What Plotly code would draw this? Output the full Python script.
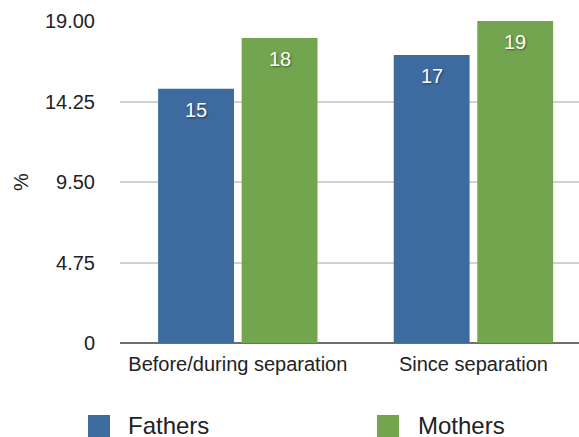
import plotly.graph_objects as go

categories = ["Before/during separation", "Since separation"]
fathers = [15, 17]
mothers = [18, 19]
series_names = ["Fathers", "Mothers"]
tick_vals = [0, 4.75, 9.5, 14.25, 19]
tick_text = ["0", "4.75", "9.50", "14.25", "19.00"]

BLUE = "#3d6a9f"
GREEN = "#72a54d"
FONT = "Liberation Sans, Arial, Helvetica, sans-serif"

BARGAP = 0.291
BARGROUPGAP = 0.092

fig = go.Figure()
fig.add_trace(go.Bar(name=series_names[0], x=categories, y=fathers,
                     marker=dict(color=BLUE, line=dict(width=0))))
fig.add_trace(go.Bar(name=series_names[1], x=categories, y=mothers,
                     marker=dict(color=GREEN, line=dict(width=0))))

# value labels inside bar tops
slot = (1 - BARGAP) / 2
for si, vals in enumerate([fathers, mothers]):
    off = (si - 0.5) * slot
    for ci, v in enumerate(vals):
        fig.add_annotation(x=ci + off, y=v, xref="x", yref="y", text=str(v),
                           showarrow=False, yanchor="middle", yshift=-21,
                           font=dict(family=FONT, size=20, color="white",
                                     shadow="1px 1px 2px rgba(0,0,0,0.45)"))

# manual legend
W = 459.0
H = 322.0
def px(x):
    return (x - 120) / W
def py(y):
    return (343 - y) / H

for name, color, sx, tx in [(series_names[0], BLUE, 88, 128), (series_names[1], GREEN, 377, 418)]:
    fig.add_shape(type="rect", xref="paper", yref="paper",
                  x0=px(sx), x1=px(sx + 22), y0=py(437), y1=py(415),
                  fillcolor=color, line=dict(width=0))
    fig.add_annotation(xref="paper", yref="paper", x=px(tx - 2), y=py(426),
                       text=name, showarrow=False, xanchor="left", yanchor="middle",
                       font=dict(family=FONT, size=24, color="#222"))

fig.update_layout(
    width=579, height=437,
    margin=dict(l=120, r=0, t=21, b=94),
    paper_bgcolor="white", plot_bgcolor="white",
    barmode="group", bargap=BARGAP, bargroupgap=BARGROUPGAP,
    showlegend=False,
    font=dict(family=FONT, color="#222"),
    xaxis=dict(range=[-0.5, 1.448], showgrid=False, zeroline=False,
               showline=False, ticks="outside", ticklen=3,
               tickcolor="rgba(0,0,0,0)", tickfont=dict(size=20, color="#222"),
               automargin=False),
    yaxis=dict(range=[0, 19], tickvals=tick_vals, ticktext=tick_text,
               showgrid=True, gridcolor="#d2d2d2", gridwidth=2,
               zeroline=True, zerolinecolor="#6e6e6e", zerolinewidth=2,
               showline=False, ticks="outside", ticklen=20,
               tickcolor="rgba(0,0,0,0)", tickfont=dict(size=20, color="#222"),
               automargin=False,
               title=dict(text="%", font=dict(size=20, color="#222"), standoff=10)),
)

fig.write_html("out.html", config={"displayModeBar": False},
               post_script="document.body.style.margin='0';")
